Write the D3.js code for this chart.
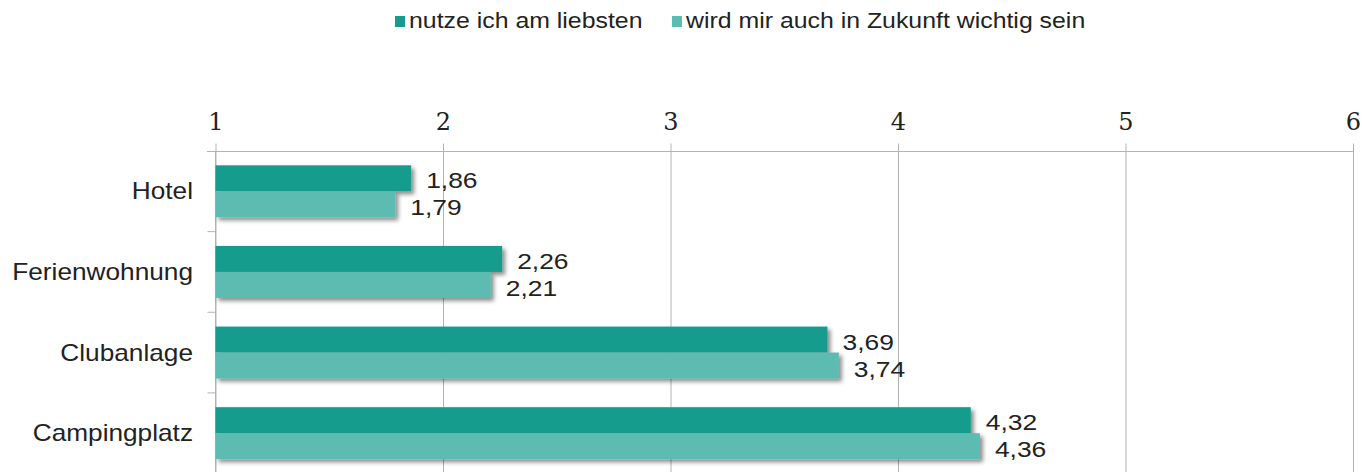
<!DOCTYPE html>
<html>
<head>
<meta charset="utf-8">
<script src="https://cdn.jsdelivr.net/npm/d3@7"></script>
<style>
  body { margin: 0; background: #fff; }
  svg { display: block; }
  .axis path, .axis line { stroke: #b3b3b3; }
  .xaxis text { font-family: "DejaVu Serif", serif; font-size: 24px; fill: #222; }
  .cat { font-family: "Liberation Sans", Arial, sans-serif; font-size: 23px; fill: #222; }
  .val { font-family: "Liberation Sans", Arial, sans-serif; font-size: 22px; fill: #222; }
  .leg { font-family: "Liberation Sans", Arial, sans-serif; font-size: 22px; fill: #222; }
</style>
</head>
<body>
<div class="chart"></div>
<script>
// Data
let categories = ["Hotel", "Ferienwohnung", "Clubanlage", "Campingplatz"];
let seriesNames = ["nutze ich am liebsten", "wird mir auch in Zukunft wichtig sein"];
let nutzeValues = [1.86, 2.26, 3.69, 4.32];
let zukunftValues = [1.79, 2.21, 3.74, 4.36];
let tickValues = [1, 2, 3, 4, 5, 6];
let colors = ["#169c8d", "#5dbcb2"];

let svgWidth = 1362;
let svgHeight = 472;

// the original text is slightly stretched horizontally
let stretch = 1.14;

let svg = d3.select(".chart")
  .append("svg")
  .attr("width", svgWidth)
  .attr("height", svgHeight);

// drop shadow for the bars
let defs = svg.append("defs");
defs.append("filter")
  .attr("id", "shadow")
  .attr("x", "-5%").attr("y", "-30%")
  .attr("width", "115%").attr("height", "170%")
  .append("feDropShadow")
  .attr("dx", 3)
  .attr("dy", 3)
  .attr("stdDeviation", 2)
  .attr("flood-color", "#000")
  .attr("flood-opacity", 0.45);

// Scales
let x = d3.scaleLinear().domain([1, 6]).range([215.5, 1353]);
let y0 = d3.scaleBand()
  .domain(categories)
  .range([151, 473.5])
  .paddingInner(0.355)
  .paddingOuter(0.1775);
let y1 = d3.scaleBand()
  .domain(seriesNames)
  .range([0, y0.bandwidth()]);

// Gridlines
svg.append("g")
  .attr("class", "axis grid")
  .attr("transform", "translate(0,151)")
  .call(d3.axisBottom(x).tickValues(tickValues).tickSize(svgHeight).tickFormat(""))
  .call(g => g.select(".domain").remove());

// Top axis
let xAxis = svg.append("g")
  .attr("class", "axis xaxis")
  .attr("transform", "translate(0,151.5)")
  .call(d3.axisTop(x).tickValues(tickValues).tickSizeInner(8).tickSizeOuter(0).tickPadding(14)
    .tickFormat(d3.format("d")));
xAxis.select(".domain").attr("d", "M207,0H1353");

// Left axis
let yAxis = svg.append("g")
  .attr("class", "axis yaxis")
  .attr("transform", "translate(215.5,0)");
yAxis.append("line")
  .attr("y1", 151).attr("y2", svgHeight);
yAxis.selectAll(".tk")
  .data(categories.slice(1))
  .enter().append("line")
  .attr("x1", -8).attr("x2", 0)
  .attr("y1", d => y0(d) - y0.step() * y0.paddingInner() / 2)
  .attr("y2", d => y0(d) - y0.step() * y0.paddingInner() / 2);

// Category labels
svg.selectAll(".cat")
  .data(categories)
  .enter().append("text")
  .attr("class", "cat")
  .attr("transform", d => `translate(193,${y0(d) + y0.bandwidth() / 2 + 8}) scale(${stretch},1)`)
  .attr("text-anchor", "end")
  .text(d => d);

// Bars
let rows = categories.map((c, i) => ({
  category: c,
  values: [nutzeValues[i], zukunftValues[i]]
}));

let group = svg.selectAll(".row")
  .data(rows)
  .enter().append("g")
  .attr("class", "row")
  .attr("transform", d => `translate(0,${y0(d.category)})`);

group.selectAll("rect")
  .data(d => d.values.map((v, j) => ({ name: seriesNames[j], value: v, idx: j })))
  .enter().append("rect")
  .attr("x", x(1))
  .attr("y", d => y1(d.name))
  .attr("width", d => x(d.value) - x(1))
  .attr("height", y1.bandwidth())
  .attr("fill", d => colors[d.idx])
  .attr("filter", "url(#shadow)");

group.selectAll(".val")
  .data(d => d.values.map((v, j) => ({ name: seriesNames[j], value: v, idx: j })))
  .enter().append("text")
  .attr("class", "val")
  .attr("transform", d => `translate(${x(d.value) + 15},${y1(d.name) + y1.bandwidth() / 2 + 10 + d.idx}) scale(1.2,1)`)
  .text(d => d3.format(".2f")(d.value).replace(".", ","));

// Legend
let legendX = [395, 672];
let legend = svg.selectAll(".legend")
  .data(seriesNames)
  .enter().append("g")
  .attr("class", "legend")
  .attr("transform", (d, i) => `translate(${legendX[i]},0)`);
legend.append("rect")
  .attr("x", 0).attr("y", 16)
  .attr("width", 10).attr("height", 11)
  .attr("fill", (d, i) => colors[i]);
legend.append("text")
  .attr("class", "leg")
  .attr("transform", `translate(14,28) scale(1.13,1)`)
  .text(d => d);
</script>
</body>
</html>
